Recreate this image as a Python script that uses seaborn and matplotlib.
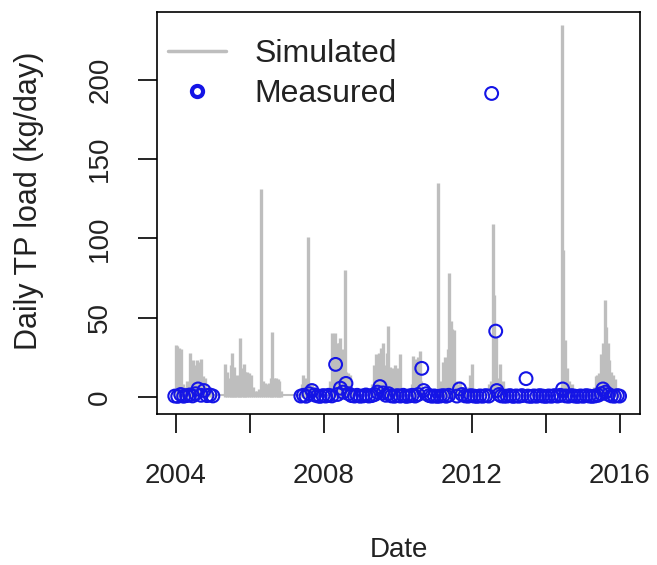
import numpy as np
import matplotlib
matplotlib.use("Agg")
import matplotlib.pyplot as plt
from matplotlib.lines import Line2D
import seaborn as sns

# ---------------- data ----------------
# Simulated daily TP load: dates (decimal year) and load (kg/day) of the visible spikes
sim_year = [
    2004.00, 2004.04, 2004.08, 2004.13, 2004.18, 2004.24, 2004.30, 2004.37, 2004.42, 2004.47,
    2004.52, 2004.58, 2004.63, 2004.68, 2004.73, 2004.78, 2004.85, 2004.92, 2004.98,
    2005.33, 2005.38, 2005.43, 2005.48, 2005.51, 2005.56, 2005.61, 2005.65, 2005.70, 2005.74,
    2005.79, 2005.83, 2005.88, 2005.93, 2005.98, 2006.03, 2006.08, 2006.13, 2006.19, 2006.25,
    2006.31, 2006.36, 2006.41, 2006.46, 2006.51, 2006.56, 2006.60, 2006.65, 2006.70, 2006.75,
    2006.80, 2006.85,
    2007.40, 2007.44, 2007.49, 2007.54, 2007.58, 2007.63, 2007.68, 2007.73, 2007.78, 2007.85,
    2008.18, 2008.22, 2008.26, 2008.30, 2008.35, 2008.40, 2008.45, 2008.50, 2008.57, 2008.61,
    2008.66, 2008.71, 2008.76,
    2009.30, 2009.36, 2009.40, 2009.45, 2009.50, 2009.55, 2009.60, 2009.65, 2009.70, 2009.75,
    2009.80, 2009.85, 2009.92, 2009.97, 2010.02, 2010.06, 2010.11,
    2010.38, 2010.42, 2010.46, 2010.51, 2010.56, 2010.60, 2010.64,
    2011.03, 2011.08, 2011.13, 2011.18, 2011.22, 2011.27, 2011.32, 2011.36, 2011.39, 2011.44,
    2011.48, 2011.53, 2011.58, 2011.63, 2011.68, 2011.74, 2011.80, 2011.86, 2011.96, 2012.00,
    2012.05,
    2012.46, 2012.52, 2012.57, 2012.61, 2012.65, 2012.69, 2012.73, 2012.77, 2012.82, 2012.86,
    2014.38, 2014.43, 2014.48, 2014.53, 2014.58, 2014.64, 2014.70, 2014.75,
    2015.30, 2015.35, 2015.40, 2015.45, 2015.50, 2015.55, 2015.60, 2015.64, 2015.68, 2015.72,
    2015.77, 2015.82, 2015.88, 2015.93, 2015.98,
]
sim_load = [
    33, 32, 31, 30, 8, 6, 10, 28, 22, 23,
    20, 23, 22, 24, 13, 12, 6, 5, 2,
    21, 16, 12, 20, 28, 19, 12, 14, 10, 37,
    18, 21, 16, 16, 15, 14, 6, 4, 4, 5,
    131, 10, 9, 8, 9, 12, 41, 12, 12, 11,
    10, 4,
    8, 14, 12, 10, 101, 9, 8, 6, 4, 3,
    10, 40, 38, 40, 34, 34, 37, 30, 80, 16,
    15, 14, 5,
    8, 20, 27, 26, 28, 31, 34, 20, 28, 45,
    19, 18, 20, 18, 12, 27, 3,
    8, 26, 24, 22, 25, 29, 10,
    5, 135, 8, 10, 22, 25, 22, 30, 78, 48,
    43, 42, 10, 8, 10, 5, 4, 6, 14, 21,
    4,
    8, 10, 109, 64, 38, 12, 10, 21, 6, 10,
    4, 235, 93, 36, 18, 10, 8, 4,
    6, 13, 14, 15, 27, 34, 61, 44, 34, 23,
    16, 14, 11, 4, 2,
]
sim_base = 1.0  # low-flow level of the simulated series

# Measured TP load: sampling dates (decimal year) and load (kg/day)
meas_year = [
    2003.97, 2004.05, 2004.13, 2004.21, 2004.29, 2004.37, 2004.45, 2004.53, 2004.60, 2004.68,
    2004.76, 2004.84, 2004.92, 2005.00,
    2007.38, 2007.45, 2007.52, 2007.60, 2007.68, 2007.75, 2007.83, 2007.90, 2007.98, 2008.05,
    2008.13, 2008.22, 2008.32, 2008.37, 2008.45, 2008.52, 2008.60, 2008.67, 2008.75, 2008.83,
    2008.90, 2008.98, 2009.06, 2009.14, 2009.22, 2009.30, 2009.38, 2009.45, 2009.52, 2009.60,
    2009.68, 2009.75, 2009.83, 2009.91, 2009.99, 2010.07, 2010.15, 2010.23, 2010.31, 2010.39,
    2010.47, 2010.55, 2010.65, 2010.70, 2010.77, 2010.85, 2010.92, 2010.99, 2011.07, 2011.15,
    2011.23, 2011.31, 2011.38, 2011.60, 2011.67, 2011.74, 2011.82, 2011.90, 2011.98, 2012.06,
    2012.14, 2012.22, 2012.30, 2012.38, 2012.46, 2012.54, 2012.65, 2012.68, 2012.74, 2012.80,
    2012.88, 2012.96, 2013.04, 2013.12, 2013.20, 2013.28, 2013.36, 2013.47, 2013.52, 2013.60,
    2013.68, 2013.76, 2013.84, 2013.92, 2014.00, 2014.08, 2014.16, 2014.24, 2014.32, 2014.40,
    2014.46, 2014.54, 2014.62, 2014.70, 2014.78, 2014.86, 2014.94, 2015.02, 2015.10, 2015.18,
    2015.26, 2015.34, 2015.42, 2015.50, 2015.55, 2015.62, 2015.70, 2015.78, 2015.86, 2015.94,
    2016.00,
]
meas_load = [
    0.5, 0.3, 1.5, 0.4, 0.8, 1.2, 0.6, 2.0, 5.0, 1.0,
    4.0, 0.8, 1.2, 0.6,
    0.5, 1.0, 0.4, 2.0, 4.0, 1.2, 0.6, 0.3, 0.8, 0.5,
    1.0, 0.6, 20.5, 1.5, 5.5, 3.0, 8.5, 2.0, 0.8, 0.5,
    1.0, 0.4, 0.6, 1.2, 0.5, 0.8, 1.5, 3.0, 6.5, 2.5,
    1.0, 2.0, 0.6, 0.4, 0.8, 0.5, 1.0, 0.3, 0.6, 1.0,
    0.5, 1.5, 18.0, 4.0, 2.0, 0.8, 0.4, 0.6, 0.3, 0.5,
    0.8, 0.4, 1.0, 0.5, 5.0, 1.5, 0.6, 0.4, 0.8, 0.5,
    0.3, 0.6, 0.4, 0.8, 0.5, 191.5, 41.5, 4.0, 1.5, 0.6,
    0.4, 0.5, 0.8, 0.3, 0.6, 0.4, 0.8, 11.5, 0.5, 0.3,
    0.6, 0.4, 0.8, 0.5, 0.3, 0.6, 0.4, 0.8, 0.5, 1.0,
    5.0, 0.6, 0.4, 0.8, 0.5, 0.3, 0.6, 0.4, 0.8, 0.5,
    0.3, 0.6, 1.0, 2.0, 5.0, 3.0, 1.5, 0.6, 0.4, 0.8,
    0.5,
]

x_ticks = [2004, 2006, 2008, 2010, 2012, 2014, 2016]
x_tick_labels = ["2004", "", "2008", "", "2012", "", "2016"]
y_ticks = [0, 50, 100, 150, 200]
y_tick_labels = ["0", "50", "100", "150", "200"]

# ---------------- style ----------------
sns.set_style("white")
plt.rcParams["font.family"] = ["Liberation Sans", "DejaVu Sans"]

SIM_COLOR = "#BEBEBE"
MEAS_COLOR = "#1414E6"

fig = plt.figure(figsize=(6.57, 5.65), dpi=100)
ax = fig.add_axes([0.239, 0.267, 0.974 - 0.239, 0.979 - 0.267])

# Simulated series (daily spikes)
sy = np.asarray(sim_year)
ax.plot([sy.min(), sy.max()], [sim_base, sim_base], color=SIM_COLOR, lw=1.5, zorder=1)
ax.vlines(sy, 0, sim_load, colors=SIM_COLOR, linewidth=2.4, zorder=2)

# Measured points
sns.scatterplot(x=meas_year, y=meas_load, ax=ax, marker="o", s=85,
                facecolor="none", edgecolor=MEAS_COLOR, linewidth=1.5, zorder=3)

ax.set_xlim(2003.49, 2016.55)
ax.set_ylim(-10.9, 243)

ax.set_xticks(x_ticks)
ax.set_xticklabels(x_tick_labels)
ax.set_yticks(y_ticks)
ax.set_yticklabels(y_tick_labels, rotation=90, va="center")

ax.tick_params(axis="both", which="major", bottom=True, left=True, direction="out",
               length=13.5, width=1.2, color="black", labelsize=20, labelcolor="#222222")
ax.tick_params(axis="x", pad=22)
ax.tick_params(axis="y", pad=18)

for sp in ax.spines.values():
    sp.set_visible(True)
    sp.set_color("black")
    sp.set_linewidth(1.2)

ax.set_xlabel("Date", fontsize=20, color="#222222")
ax.set_ylabel("Daily TP load (kg/day)", fontsize=22, color="#222222")
ax.xaxis.set_label_coords(0.5, -0.338)
ax.xaxis.label.set_va("center")
ax.yaxis.set_label_coords(-0.265, 0.53)
ax.yaxis.label.set_va("center")

handles = [
    Line2D([], [], color=SIM_COLOR, lw=2.5),
    Line2D([], [], color=MEAS_COLOR, lw=0, marker="o", markersize=8,
           markerfacecolor="none", markeredgewidth=3),
]
leg = ax.legend(handles, ["Simulated", "Measured"], loc="upper left",
                bbox_to_anchor=(0.023, 0.933), frameon=False, fontsize=23,
                borderpad=0, borderaxespad=0, handlelength=1.8,
                handletextpad=0.9, labelspacing=0.32)
for t in leg.get_texts():
    t.set_color("#222222")

fig.savefig("out.png", dpi=100)
